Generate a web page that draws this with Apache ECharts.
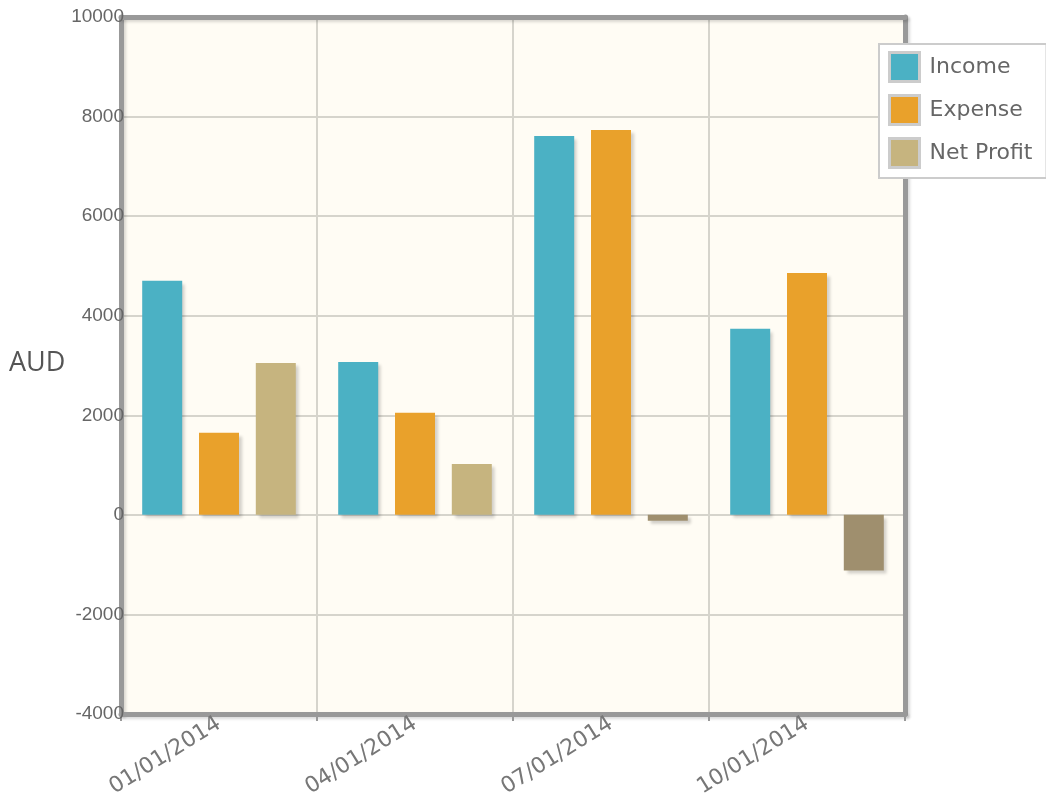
<!DOCTYPE html>
<html>
<head>
<meta charset="utf-8">
<script src="https://cdn.jsdelivr.net/npm/echarts@6/dist/echarts.min.js"></script>
<style>
  html, body { margin: 0; padding: 0; background: #fff; }
  #chart { width: 1046px; height: 812px; }
</style>
</head>
<body>
<div id="chart"></div>
<script>
// quarters
const categories = ['01/01/2014', '04/01/2014', '07/01/2014', '10/01/2014'];
const income = [4700, 3070, 7610, 3740];
const expense = [1650, 2050, 7730, 4860];
const netProfit = [3050, 1020, -120, -1120];
const yTicks = [-4000, 10000, 2000]; // min, max, step

const font = '"Open Sans", "DejaVu Sans", sans-serif';
const frame = {show: true, onZero: false, lineStyle: {color: '#999', width: 5, shadowColor: 'rgba(0,0,0,0.15)', shadowBlur: 3, shadowOffsetX: 2, shadowOffsetY: 2}};
const barShadow = {
    shadowColor: 'rgba(0,0,0,0.18)',
    shadowBlur: 3,
    shadowOffsetX: 3,
    shadowOffsetY: 3
};

// negative net profit is drawn a shade darker
const netData = netProfit.map(v => ({
    value: v,
    itemStyle: v < 0 ? {color: '#9f8f6e'} : undefined
}));

const chart = echarts.init(document.getElementById('chart'), null, {renderer: 'canvas'});
chart.setOption({
    animation: false,
    textStyle: {fontFamily: font},
    grid: {
        left: 121,
        top: 17,
        right: 141,
        bottom: 98,
        show: true,
        backgroundColor: '#fffcf4',
        borderWidth: 0
    },
    legend: {
        data: ['Income', 'Expense', 'Net Profit'],
        orient: 'vertical',
        left: 879,
        top: 44,
        padding: [7, 14, 9, 9],
        itemGap: 11,
        itemWidth: 30,
        itemHeight: 29,
        icon: 'rect',
        backgroundColor: '#fff',
        borderColor: '#ccc',
        borderWidth: 2,
        itemStyle: {borderColor: '#ccc', borderWidth: 3},
        textStyle: {fontSize: 22, lineHeight: 29, color: '#666', fontFamily: '"DejaVu Sans", sans-serif', padding: [0, 0, 0, 5]}
    },
    graphic: [{
        type: 'text',
        left: 9,
        top: 350,
        style: {text: 'AUD', fontSize: 27, fill: '#555', fontFamily: font}
    }],
    xAxis: [{
        type: 'category',
        data: categories,
        boundaryGap: true,
        axisLine: frame,
        axisTick: {show: true, length: 7, lineStyle: {color: '#999', width: 2}},
        splitLine: {show: true, lineStyle: {color: '#d6d4cc', width: 2}},
        axisLabel: {
            rotate: 32,
            margin: 8,
            fontSize: 22,
            color: '#777',
            fontFamily: '"DejaVu Sans", sans-serif'
        }
    }, {
        type: 'category',
        position: 'top',
        data: categories,
        axisLine: frame,
        axisTick: {show: false},
        axisLabel: {show: false},
        splitLine: {show: false}
    }],
    yAxis: [{
        type: 'value',
        min: yTicks[0],
        max: yTicks[1],
        interval: yTicks[2],
        axisLine: frame,
        axisTick: {show: false},
        splitLine: {lineStyle: {color: '#d6d4cc', width: 2}},
        axisLabel: {
            margin: -3,
            fontSize: 19,
            color: '#666',
            fontFamily: '"Liberation Sans", Arial, sans-serif',
            formatter: v => String(v)
        }
    }, {
        type: 'value',
        position: 'right',
        min: yTicks[0],
        max: yTicks[1],
        interval: yTicks[2],
        axisLine: frame,
        axisTick: {show: false},
        axisLabel: {show: false},
        splitLine: {show: false}
    }],
    series: [
        {
            name: 'Income',
            type: 'bar',
            data: income,
            barWidth: 40,
            barGap: '42%',
            itemStyle: Object.assign({color: '#4bb1c4'}, barShadow)
        },
        {
            name: 'Expense',
            type: 'bar',
            data: expense,
            barWidth: 40,
            barGap: '42%',
            itemStyle: Object.assign({color: '#e9a12b'}, barShadow)
        },
        {
            name: 'Net Profit',
            type: 'bar',
            data: netData,
            barWidth: 40,
            barGap: '42%',
            itemStyle: Object.assign({color: '#c6b47f'}, barShadow)
        }
    ]
});
</script>
</body>
</html>
